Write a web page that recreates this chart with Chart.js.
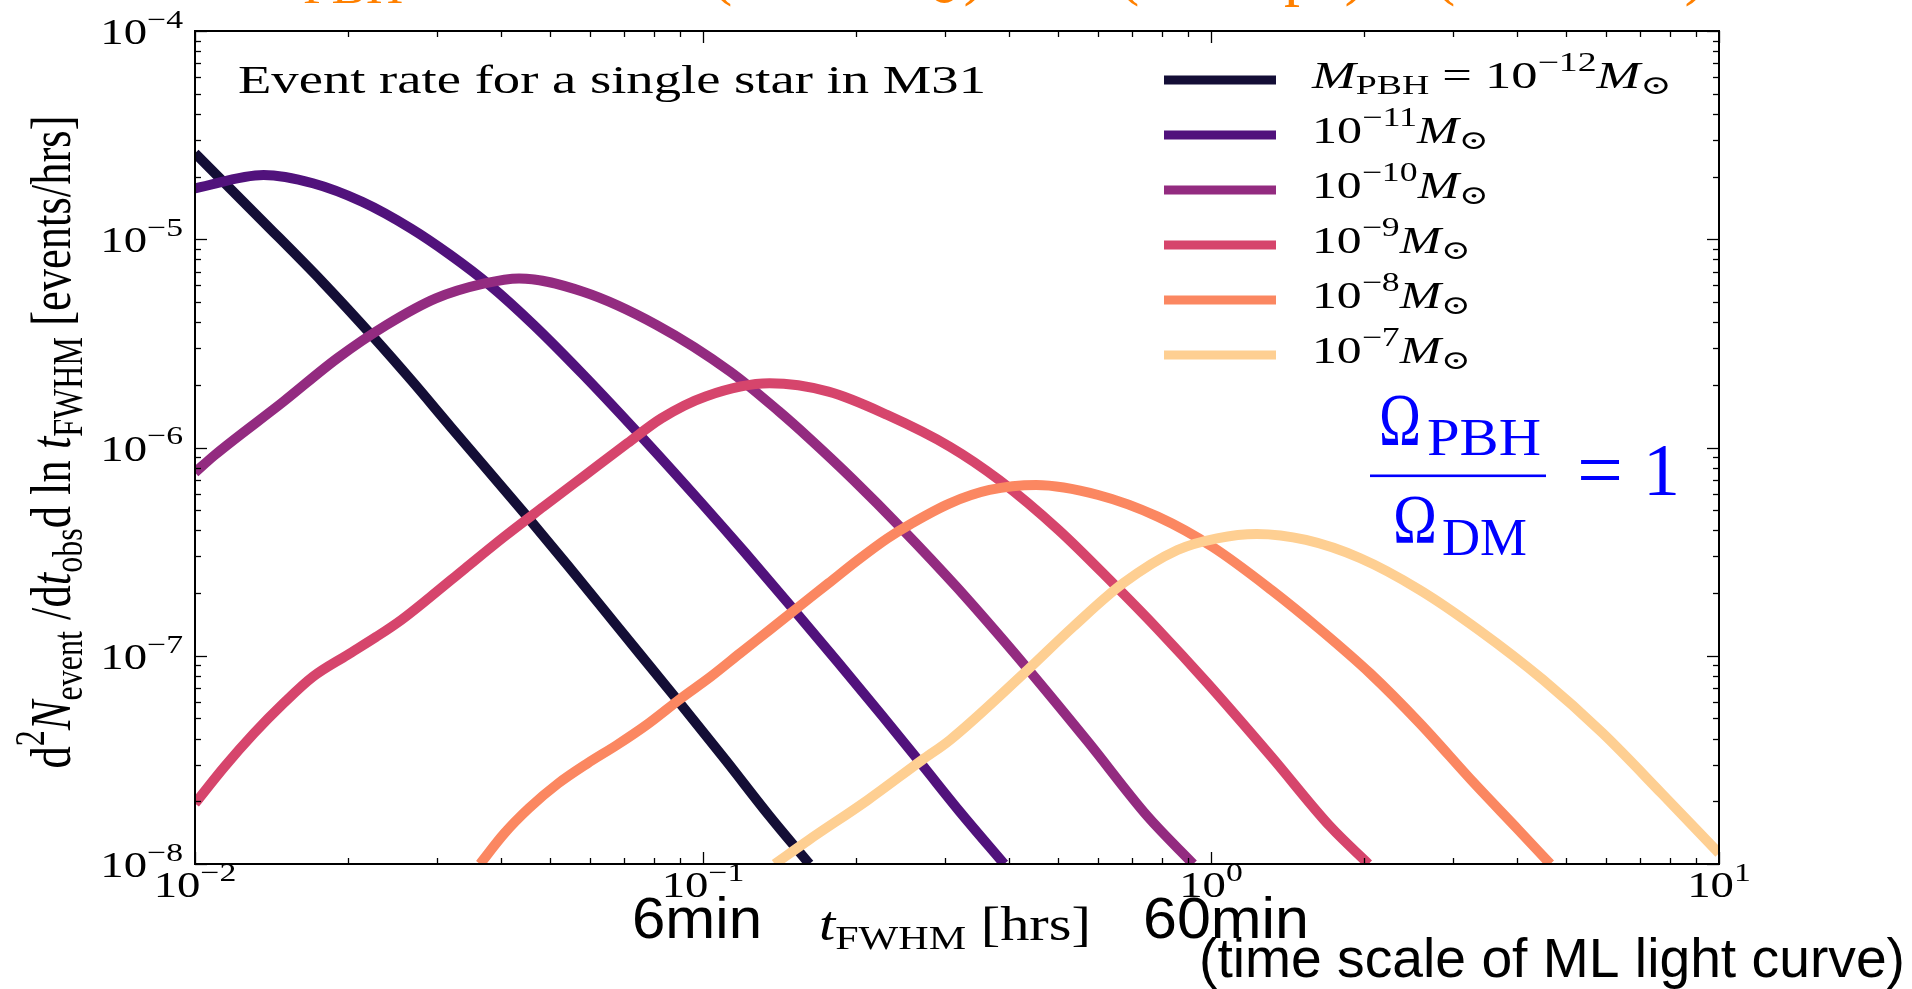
<!DOCTYPE html>
<html>
<head>
<meta charset="utf-8">
<script src="https://cdn.jsdelivr.net/npm/chart.js@4.4.1/dist/chart.umd.min.js"></script>
<style>
  html, body { margin: 0; padding: 0; background: #ffffff; overflow: hidden; }
  #wrap { width: 1912px; height: 989px; position: relative; }
</style>
</head>
<body>
<div id="wrap"><canvas id="rate"></canvas></div>
<script>
// Event rate d^2N/dt_obs dln t_FWHM [events/hrs] versus t_FWHM [hrs], one curve per PBH mass
const tM12 = [0.0100, 0.01365, 0.01782, 0.02254, 0.02661, 0.03184, 0.04446, 0.05433, 0.06776, 0.08851, 0.1107, 0.1352, 0.1620];
const rM12 = [2.588e-5, 1.208e-5, 6.237e-6, 3.350e-6, 2.113e-6, 1.259e-6, 4.842e-7, 2.692e-7, 1.387e-7, 6.237e-8, 3.162e-8, 1.698e-8, 1.0e-8];

const tM11 = [0.0100, 0.01365, 0.01706, 0.02133, 0.02661, 0.03184, 0.03802, 0.04645, 0.05808, 0.07745, 0.09908, 0.1211, 0.1510, 0.1845, 0.2254, 0.2698, 0.3206, 0.3917];
const rM11 = [1.758e-5, 2.037e-5, 1.858e-5, 1.514e-5, 1.127e-5, 8.395e-6, 6.026e-6, 3.873e-6, 2.239e-6, 1.059e-6, 5.445e-7, 3.119e-7, 1.660e-7, 9.290e-8, 5.140e-8, 2.999e-8, 1.778e-8, 1.0e-8];

const tM10 = [0.0100, 0.01094, 0.01493, 0.01905, 0.02382, 0.02979, 0.03715, 0.04345, 0.05808, 0.08110, 0.1132, 0.1413, 0.1614, 0.1972, 0.2466, 0.3162, 0.4285, 0.5728, 0.7499, 0.9226];
const rM10 = [7.586e-7, 9.204e-7, 1.660e-6, 2.679e-6, 3.873e-6, 5.200e-6, 6.138e-6, 6.486e-6, 5.598e-6, 3.873e-6, 2.312e-6, 1.486e-6, 1.114e-6, 7.031e-7, 4.064e-7, 2.128e-7, 9.078e-8, 3.855e-8, 1.694e-8, 1.0e-8];

const tM9 = [0.0100, 0.01143, 0.01306, 0.01493, 0.01706, 0.01995, 0.02275, 0.02547, 0.02911, 0.03404, 0.04064, 0.04853, 0.05808, 0.07096, 0.08279, 0.1012, 0.1352, 0.1766, 0.2307, 0.3062, 0.3828, 0.5012, 0.6412, 0.7852, 0.9817, 1.315, 1.718, 2.042];
const rM9 = [1.954e-8, 2.931e-8, 4.236e-8, 5.902e-8, 7.925e-8, 1.009e-7, 1.233e-7, 1.486e-7, 1.923e-7, 2.630e-7, 3.733e-7, 5.200e-7, 7.244e-7, 1.047e-6, 1.380e-6, 1.758e-6, 2.032e-6, 1.854e-6, 1.432e-6, 1.009e-6, 6.982e-7, 4.018e-7, 2.228e-7, 1.343e-7, 7.430e-8, 3.273e-8, 1.510e-8, 1.0e-8];

const tM8 = [0.03639, 0.04064, 0.04539, 0.05188, 0.05929, 0.06776, 0.07745, 0.09057, 0.1035, 0.1183, 0.1352, 0.1545, 0.1766, 0.2018, 0.2307, 0.2576, 0.3062, 0.3664, 0.4529, 0.5998, 0.7852, 1.005, 1.315, 1.644, 2.056, 2.576, 3.296, 4.027, 4.656];
const rM8 = [1.0e-8, 1.403e-8, 1.849e-8, 2.438e-8, 3.048e-8, 3.733e-8, 4.656e-8, 6.252e-8, 7.925e-8, 1.028e-7, 1.330e-7, 1.722e-7, 2.228e-7, 2.884e-7, 3.664e-7, 4.325e-7, 5.395e-7, 6.252e-7, 6.607e-7, 5.916e-7, 4.656e-7, 3.342e-7, 2.070e-7, 1.330e-7, 8.241e-8, 4.742e-8, 2.443e-8, 1.459e-8, 1.0e-8];

const tM7 = [0.1384, 0.1614, 0.2109, 0.2698, 0.3062, 0.4285, 0.5358, 0.6714, 0.8590, 1.028, 1.230, 1.538, 1.968, 2.576, 3.365, 4.508, 5.902, 7.709, 10.0];
const rM7 = [1.0e-8, 1.303e-8, 2.028e-8, 3.155e-8, 3.936e-8, 8.241e-8, 1.380e-7, 2.228e-7, 3.221e-7, 3.664e-7, 3.846e-7, 3.597e-7, 2.938e-7, 2.070e-7, 1.330e-7, 7.656e-8, 4.246e-8, 2.183e-8, 1.125e-8];

const seriesT = [tM12, tM11, tM10, tM9, tM8, tM7];
const seriesR = [rM12, rM11, rM10, rM9, rM8, rM7];
const massExps = ['−12', '−11', '−10', '−9', '−8', '−7'];
const seriesColors = ['#140e36', '#51127c', '#932b80', '#d6456c', '#fb8761', '#fecf92'];

// axis ranges and decade tick labels (exponents of ten)
const xTickValues = [0.01, 0.1, 1, 10];
const xTickExps = ['−2', '−1', '0', '1'];
const yTickValues = [1e-8, 1e-7, 1e-6, 1e-5, 1e-4];
const yTickExps = ['−8', '−7', '−6', '−5', '−4'];

// ---------- text helpers (math-style runs: roman, italic, sub/superscript) ----------
const SERIF = '"Liberation Serif", "DejaVu Serif", "DejaVu Sans", serif';
const SANS = '"Liberation Sans", Arial, sans-serif';
const R = t => ({ t });
const I = t => ({ t, i: true });
const SB = (t, dy) => ({ t, s: 0.72, dy: dy === undefined ? 0.2 : dy });
const SP = (t, dy) => ({ t, s: 0.72, dy: dy === undefined ? -0.45 : dy });

function runFont(r, size, fam) {
  return (r.i ? 'italic ' : '') + (size * (r.s || 1)).toFixed(2) + 'px ' + (r.f || fam);
}
function runsWidth(ctx, runs, size, fam) {
  let w = 0;
  for (const r of runs) { ctx.font = runFont(r, size, fam); w += ctx.measureText(r.t).width + (r.g || 0) * size; }
  return w;
}
function drawRuns(ctx, runs, o) {
  const fam = o.fam || SERIF;
  ctx.save();
  ctx.translate(o.x, o.y);
  if (o.rot) ctx.rotate(o.rot);
  const nat = runsWidth(ctx, runs, o.size, fam);
  const kx = o.width ? o.width / nat : (o.kx || 1);
  const w = nat * kx;
  const x0 = o.align === 'center' ? -w / 2 : (o.align === 'right' ? -w : 0);
  ctx.translate(x0, 0);
  ctx.scale(kx, o.sy || 1);
  ctx.fillStyle = o.color || '#000';
  ctx.textAlign = 'left';
  ctx.textBaseline = 'alphabetic';
  let cx = 0;
  for (const r of runs) {
    ctx.font = runFont(r, o.size, fam);
    ctx.fillText(r.t, cx, (r.dy || 0) * o.size);
    cx += ctx.measureText(r.t).width + (r.g || 0) * o.size;
  }
  ctx.restore();
}

// ---------- frame, ticks, labels, legend and annotations ----------
const decor = {
  id: 'decor',
  afterDraw(chart) {
    const { ctx, chartArea: a, scales } = chart;
    const xs = scales.x, ys = scales.y;
    ctx.save();

    // inward ticks on all four sides
    ctx.strokeStyle = '#000';
    ctx.lineWidth = 1.3;
    const seg = (x1, y1, x2, y2) => { ctx.beginPath(); ctx.moveTo(x1, y1); ctx.lineTo(x2, y2); ctx.stroke(); };
    for (let d = 0; d < xTickValues.length; d++) {
      for (let m = 1; m <= 9; m++) {
        if (d === xTickValues.length - 1 && m > 1) break;
        const px = Math.round(xs.getPixelForValue(m * xTickValues[d])) + 0.5;
        const len = m === 1 ? 12 : 6;
        seg(px, a.bottom, px, a.bottom - len);
        seg(px, a.top, px, a.top + len);
      }
    }
    for (let d = 0; d < yTickValues.length; d++) {
      for (let m = 1; m <= 9; m++) {
        if (d === yTickValues.length - 1 && m > 1) break;
        const py = Math.round(ys.getPixelForValue(m * yTickValues[d])) + 0.5;
        const len = m === 1 ? 12 : 6;
        seg(a.left, py, a.left + len, py);
        seg(a.right, py, a.right - len, py);
      }
    }
    ctx.lineWidth = 2;
    ctx.strokeRect(a.left, a.top, a.right - a.left, a.bottom - a.top);

    // decade tick labels
    xTickValues.forEach((v, i) => {
      drawRuns(ctx, [R('10'), SP(xTickExps[i])], { x: xs.getPixelForValue(v), y: a.bottom + 33, size: 36, kx: 1.3, align: 'center' });
    });
    yTickValues.forEach((v, i) => {
      drawRuns(ctx, [R('10'), SP(yTickExps[i])], { x: a.left - 12, y: ys.getPixelForValue(v) + 13, size: 36, kx: 1.3, align: 'right' });
    });

    // axis titles
    drawRuns(ctx, [I('t'), SB('FWHM', 0.18), R(' [hrs]')], { x: 819, y: 940, size: 48, width: 272 });
    drawRuns(ctx, [R('d'), SP('2'), I('N'), SB('event'), R(' /d'), I('t'), SB('obs'), R('d ln '), I('t'), SB('FWHM'), R(' [events/hrs]')],
      { x: 70, y: 442, size: 48, width: 653, sy: 1.2, rot: -Math.PI / 2, align: 'center' });

    // caption inside the axes
    drawRuns(ctx, [R('Event rate for a single star in M31')], { x: 238, y: 93, size: 40, width: 748 });

    // legend
    const rowY = [80, 135, 190, 245, 300, 355];
    const legendW = [360, 177, 177, 159, 159, 159];
    ctx.lineCap = 'butt';
    seriesColors.forEach((c, i) => {
      ctx.strokeStyle = c;
      ctx.lineWidth = 9;
      seg(1164, rowY[i], 1276, rowY[i]);
      const runs = i === 0
        ? [I('M'), SB('PBH', 0.15), R(' = 10'), SP(massExps[i]), I('M'), SB('⊙', 0.16)]
        : [R('10'), SP(massExps[i]), I('M'), SB('⊙', 0.16)];
      drawRuns(ctx, runs, { x: 1312, y: rowY[i] + 8, size: 37, width: legendW[i] });
    });

    // density ratio annotation
    const blue = '#0000ff';
    drawRuns(ctx, [R('Ω')], { x: 1379, y: 445, size: 74, width: 42, color: blue });
    drawRuns(ctx, [R('PBH')], { x: 1427, y: 455, size: 53, width: 114, color: blue });
    ctx.fillStyle = blue;
    ctx.fillRect(1370, 474.5, 176, 2.6);
    drawRuns(ctx, [R('Ω')], { x: 1393, y: 543, size: 70, width: 44, color: blue });
    drawRuns(ctx, [R('DM')], { x: 1442, y: 555, size: 53, width: 85, color: blue });
    drawRuns(ctx, [R('=')], { x: 1577, y: 497, size: 80, width: 46, color: blue });
    drawRuns(ctx, [R('1')], { x: 1643, y: 495, size: 74, color: blue });

    // time-scale notes under the axis
    drawRuns(ctx, [R('6min')], { x: 632, y: 938, size: 57, width: 130, fam: SANS });
    drawRuns(ctx, [R('60min')], { x: 1143, y: 938, size: 57, width: 166, fam: SANS });
    drawRuns(ctx, [R('(time scale of ML light curve)')], { x: 1199, y: 977, size: 56, width: 706, fam: SANS });

    // scaling relation running along the top edge
    const orange = '#ff8000';
    drawRuns(ctx, [R('PBH')], { x: 303, y: 3, size: 45, width: 100, color: orange });
    drawRuns(ctx, [R('(')], { x: 711, y: -7, size: 64, color: orange });
    drawRuns(ctx, [R('M'), SB('⊙', 0.16), R(')')], { x: 868, y: -7, size: 64, color: orange });
    drawRuns(ctx, [R('(')], { x: 1118, y: -7, size: 64, color: orange });
    drawRuns(ctx, [R('kpc)')], { x: 1252, y: -7, size: 64, color: orange });
    drawRuns(ctx, [R('(')], { x: 1434, y: -7, size: 64, color: orange });
    drawRuns(ctx, [R('km/s)')], { x: 1560, y: -7, size: 64, color: orange });

    ctx.restore();
  }
};

const datasets = seriesT.map((ts, i) => ({
  label: 'M' + massExps[i],
  data: ts.map((t, j) => ({ x: t, y: seriesR[i][j] })),
  borderColor: seriesColors[i],
  backgroundColor: seriesColors[i],
  borderWidth: 10,
  pointRadius: 0,
  fill: false,
  cubicInterpolationMode: 'monotone',
  clip: 0,
  order: -i
}));

new Chart(document.getElementById('rate'), {
  type: 'line',
  data: { datasets },
  options: {
    responsive: true,
    maintainAspectRatio: false,
    animation: false,
    events: [],
    layout: { padding: { left: 195, top: 31, right: 193, bottom: 125 } },
    scales: {
      x: { type: 'logarithmic', min: 0.01, max: 10, display: false },
      y: { type: 'logarithmic', min: 1e-8, max: 1e-4, display: false }
    },
    plugins: { legend: { display: false }, tooltip: { enabled: false } }
  },
  plugins: [decor]
});
</script>
</body>
</html>
